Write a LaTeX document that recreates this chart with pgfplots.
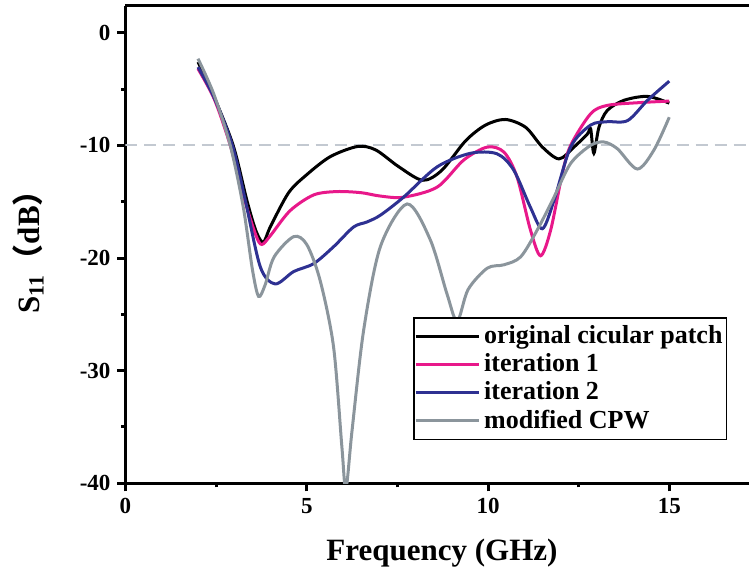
\documentclass[border=0pt]{standalone}
\usepackage{pgfplots}
\pgfplotsset{compat=1.18}
\usepackage{fontspec}
\setmainfont{Liberation Serif}
\newfontfamily\cjk{Noto Sans CJK SC}
\definecolor{pinkc}{RGB}{232,24,138}
\definecolor{bluec}{RGB}{46,49,146}
\definecolor{grayc}{RGB}{139,149,156}
\definecolor{dashc}{RGB}{195,201,209}
\begin{document}
\begin{tikzpicture}
\begin{axis}[
  scale only axis,
  width=311.75pt, height=238.8pt,
  xmin=0, xmax=17.2, ymin=-40, ymax=2.4,
  axis y line*=left,
  axis line style={line width=1.5pt},
  xtick={0,5,10,15}, ytick={-40,-30,-20,-10,0},
  minor xtick={2.5,7.5,12.5}, minor ytick={-35,-25,-15,-5},
  xtick pos=bottom, ytick pos=left,
  tick align=outside,
  major tick length=4pt, minor tick length=2pt,
  every tick/.style={line width=1.5pt, black},
  /pgf/number format/assume math mode=true,
  ticklabel style={font=\fontsize{11.5}{13}\selectfont\bfseries},
  xlabel={Frequency (GHz)},
  ylabel={S\textsubscript{11}{\cjk （}dB{\cjk ）}},
  xlabel style={font=\fontsize{15.5}{18}\selectfont\bfseries, at={(axis description cs:0.5076,-0.1466)}, anchor=center},
  ylabel style={font=\fontsize{15.5}{18}\selectfont\bfseries, at={(axis description cs:-0.1564,0.5)}, anchor=center, rotate=0},
  legend style={at={(rel axis cs:0.965,0.0907)}, anchor=south east, draw=black, line width=0.7pt, fill=white,
    font=\fontsize{13}{15.5}\selectfont\bfseries, inner xsep=0pt, inner ysep=2pt, row sep=-0.5pt,
    cells={anchor=west}},
  legend image code/.code={\draw[#1, line width=1.5pt] (-4.5pt,0pt) -- (27pt,0pt);},
  legend cell align=left,
]
\addplot[dashc, line width=1pt, dash pattern=on 6pt off 3.5pt, forget plot] coordinates {(0,-10) (17.2,-10)};
\addplot[black, line width=1.5pt, smooth] coordinates {
(2.0,-2.6) (2.43,-5.6) (2.97,-10) (3.35,-14.9) (3.6,-17.6) (3.8,-18.6) (4.0,-17.2) (4.5,-14.2) (5.0,-12.6)
(5.65,-11.0) (6.4,-10.1) (6.9,-10.4) (7.54,-11.9) (8.2,-13.1) (8.73,-12.2) (9.38,-9.6) (9.93,-8.2)
(10.48,-7.7) (11.04,-8.4) (11.5,-10.15) (11.96,-11.2) (12.37,-10.15) (12.74,-9.0) (12.83,-8.5) (12.92,-10.7)
(13.06,-8.4) (13.29,-6.9) (13.75,-6.0) (14.4,-5.65) (15.0,-6.25)};
\addlegendentry{original cicular patch}
\addplot[pinkc, line width=1.5pt, smooth] coordinates {
(2.0,-3.2) (2.45,-5.9) (2.89,-10) (3.3,-15.0) (3.6,-18.0) (3.76,-18.8) (4.0,-18.0) (4.54,-15.8) (5.19,-14.4)
(5.83,-14.1) (6.5,-14.2) (7.03,-14.5) (7.67,-14.6) (8.6,-13.7) (9.33,-11.3) (9.98,-10.15) (10.44,-10.6)
(10.8,-12.8) (11.17,-17.5) (11.45,-19.8) (11.73,-17.5) (12.05,-12.5) (12.28,-10.0) (12.83,-7.2) (13.29,-6.45)
(14.2,-6.2) (15.0,-6.07)};
\addlegendentry{iteration 1}
\addplot[bluec, line width=1.5pt, smooth] coordinates {
(2.0,-3.05) (2.45,-5.8) (2.95,-10) (3.3,-14.8) (3.72,-20.8) (4.13,-22.3) (4.64,-21.2) (5.19,-20.5) (5.74,-19.0)
(6.29,-17.25) (6.66,-16.8) (7.03,-16.2) (7.67,-14.6) (8.6,-11.9) (9.52,-10.7) (10.25,-10.75) (10.71,-12.2)
(11.17,-15.5) (11.5,-17.4) (11.82,-14.9) (12.28,-10.15) (12.83,-8.2) (13.29,-7.9) (13.85,-7.8) (14.4,-6.0) (15.0,-4.3)};
\addlegendentry{iteration 2}
\addplot[grayc, line width=1.5pt, smooth] coordinates {
(2.0,-2.3) (2.43,-5.4) (2.89,-10) (3.25,-15.5) (3.5,-21.0) (3.67,-23.4) (3.85,-22.4) (4.1,-19.9) (4.64,-18.1) (5.0,-18.8)
(5.37,-22.0) (5.74,-27.9) (5.97,-36.8) (6.08,-40.5) (6.25,-35.3) (6.57,-26.4) (7.03,-19.0) (7.77,-15.2) (8.41,-18.4)
(8.87,-23.2) (9.15,-25.6) (9.45,-22.8) (9.98,-20.9) (10.44,-20.6) (10.9,-19.9) (11.36,-17.5) (11.82,-14.6)
(12.28,-11.6) (12.83,-10.0) (13.2,-9.7) (13.57,-10.3) (14.12,-12.1) (14.58,-10.4) (15.0,-7.5)};
\addlegendentry{modified CPW}
\coordinate (bl) at (rel axis cs:0,0);
\coordinate (tr) at (rel axis cs:1,1);
\end{axis}
\pgfresetboundingbox
\path ([shift={(-62.75pt,-47.85pt)}]bl) rectangle ([shift={(0pt,2.85pt)}]tr);
\end{tikzpicture}
\end{document}
